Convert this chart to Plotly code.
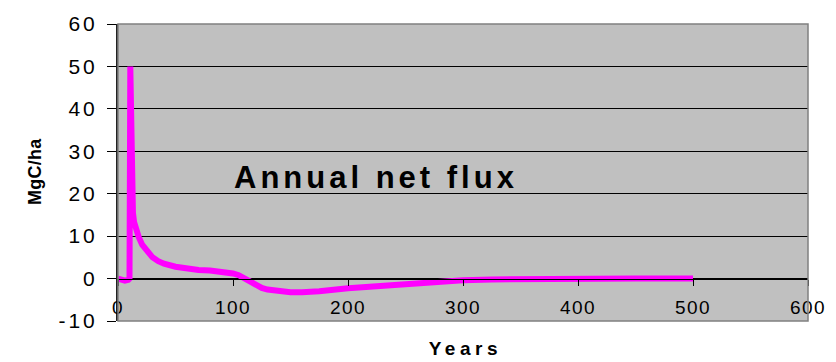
import plotly.graph_objects as go

# Annual net carbon flux over a 500-year simulation
years = [0, 3, 6, 9, 10, 10.7, 11.3, 12, 13, 14, 16, 18, 21, 25, 30, 35, 40, 50, 60, 70,
         80, 90, 100, 105, 110, 115, 120, 125, 130, 140, 150, 160, 175, 200, 225, 250,
         275, 300, 325, 350, 400, 450, 500]
flux = [0, -0.3, -0.5, -0.3, 0, 50, 30, 20, 15.5, 13.3, 11, 9.8, 8, 6.5, 5, 4.1, 3.5, 2.8,
        2.3, 2.0, 1.9, 1.7, 1.2, 0.8, 0, -0.8, -1.6, -2.2, -2.6, -3.0, -3.2, -3.2, -3.0,
        -2.3, -1.8, -1.3, -0.8, -0.4, -0.2, -0.1, 0, 0, 0]

x_ticks = [0, 100, 200, 300, 400, 500, 600]
y_ticks = [-10, 0, 10, 20, 30, 40, 50, 60]
y_tick_labels = ["-10", "0", "10", "20", "30", "40", "50", "60"]

FONT = "Liberation Sans, Arial, sans-serif"

fig = go.Figure()
fig.add_trace(go.Scatter(
    x=years, y=flux, mode="lines",
    line=dict(color="#FF00FF", width=6),
    hoverinfo="skip", showlegend=False,
))

# x axis crosses the y axis at zero, Excel style
y_min, y_max = y_ticks[0], y_ticks[-1]
zero_pos = (0 - y_min) / (y_max - y_min)

fig.update_layout(
    width=836, height=362,
    margin=dict(l=118, r=24, t=18, b=41),
    paper_bgcolor="white",
    plot_bgcolor="#C0C0C0",
    font=dict(family=FONT, color="black", size=18),
    xaxis=dict(
        range=[x_ticks[0], x_ticks[-1]], tickvals=x_ticks,
        showgrid=False, zeroline=False,
        anchor="free", position=zero_pos,
        showline=True, linecolor="black", linewidth=1,
        ticks="outside", ticklen=6, tickcolor="black", tickwidth=1,
        ticklabelstandoff=6,
        tickfont=dict(size=19, family=FONT),
    ),
    yaxis=dict(
        range=[y_min, y_max], tickvals=y_ticks, ticktext=y_tick_labels,
        showgrid=True, gridcolor="black", gridwidth=1,
        zeroline=False,
        showline=True, linecolor="#222", linewidth=2,
        ticks="outside", ticklen=9, tickcolor="black", tickwidth=1,
        ticklabelstandoff=5,
        tickfont=dict(size=21, family=FONT),
    ),
    shapes=[dict(
        type="rect", xref="paper", yref="paper", x0=0, x1=1, y0=0, y1=1,
        line=dict(color="#808080", width=1.5), fillcolor="rgba(0,0,0,0)", layer="above",
    )],
    annotations=[
        dict(text="<b>Annual net flux</b>", xref="paper", yref="paper",
             x=0.375, y=0.483, xanchor="center", yanchor="middle",
             showarrow=False, font=dict(size=31, family=FONT)),
        dict(text="<b>Years</b>", xref="paper", yref="paper",
             x=0.503, y=-0.092, xanchor="center", yanchor="middle",
             showarrow=False, font=dict(size=19, family=FONT)),
        dict(text="<b>MgC/ha</b>", xref="paper", yref="paper",
             x=-0.12, y=0.505, xanchor="center", yanchor="middle", textangle=-90,
             showarrow=False, font=dict(size=18, family=FONT)),
    ],
)

# Widen the letter spacing of tick labels and titles after each render
spacing_js = """
var gd = document.getElementById('{plot_id}');
function spaceText() {
  gd.querySelectorAll('.xtick text').forEach(function (t) {
    t.style.letterSpacing = '1.5px';
  });
  gd.querySelectorAll('.ytick text').forEach(function (t) {
    t.style.letterSpacing = '3px';
  });
  gd.querySelectorAll('.annotation-text').forEach(function (t) {
    var s = t.textContent;
    if (s === 'Annual net flux') t.style.letterSpacing = '4px';
    else if (s === 'Years') t.style.letterSpacing = '4.5px';
    else if (s === 'MgC/ha') t.style.letterSpacing = '0.3px';
  });
}
spaceText();
gd.on('plotly_afterplot', spaceText);
setTimeout(spaceText, 50);
"""

fig.write_html("out.html", post_script=spacing_js)
